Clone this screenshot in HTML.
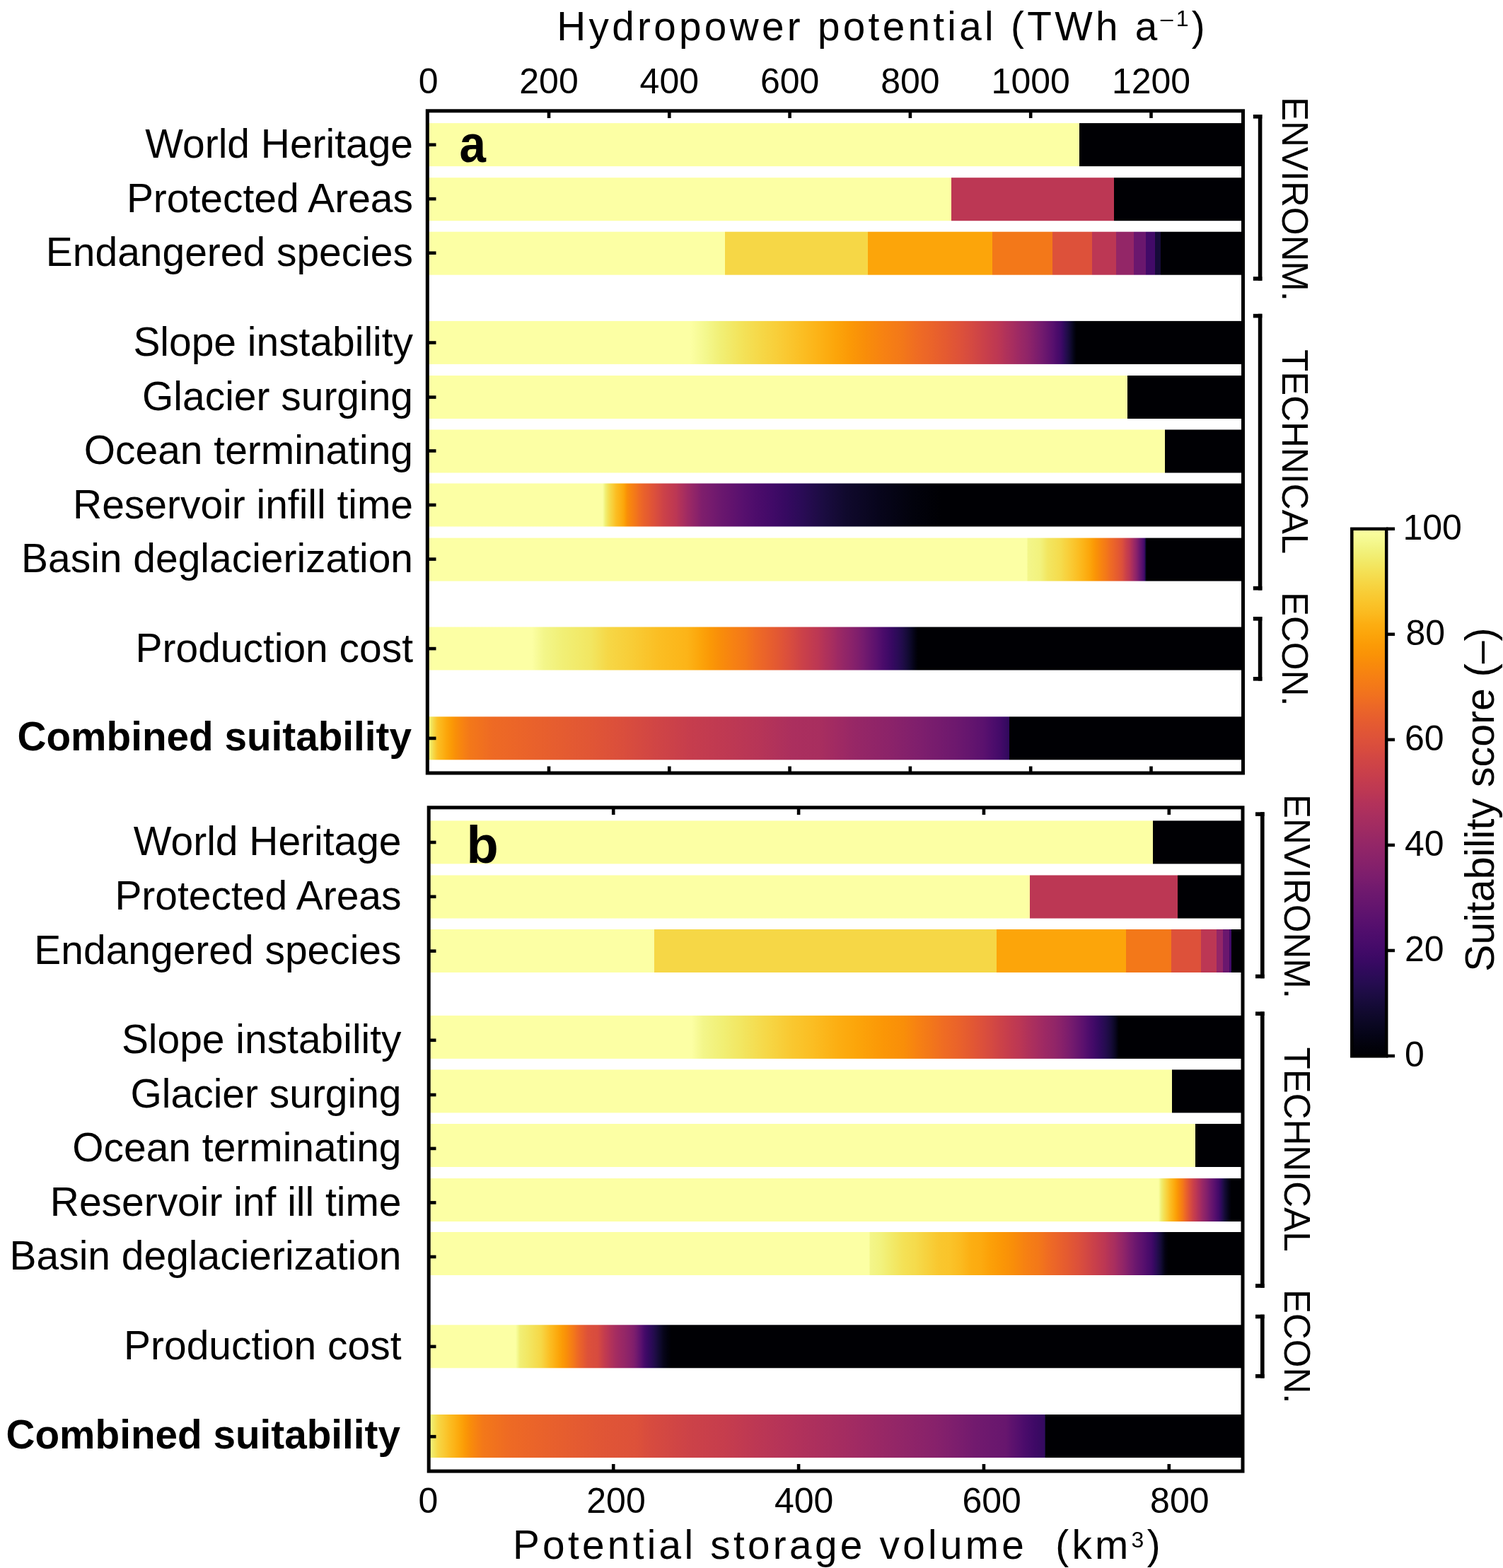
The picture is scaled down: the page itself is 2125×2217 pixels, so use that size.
<!DOCTYPE html>
<html><head><meta charset="utf-8"><title>Suitability figure</title>
<style>
html,body{margin:0;padding:0;background:#fff;}
body{width:2125px;height:2217px;position:relative;overflow:hidden;}
</style></head><body>
<svg width="2125" height="2217" viewBox="0 0 2125 2217" style="position:absolute;left:0;top:0"><defs><linearGradient id="g00" gradientUnits="userSpaceOnUse" x1="600.0" y1="0" x2="1762.0" y2="0"><stop offset="0.00000" stop-color="#fcffa4"/><stop offset="0.79690" stop-color="#fcffa4"/><stop offset="0.79690" stop-color="#000004"/><stop offset="1.00000" stop-color="#000004"/></linearGradient><linearGradient id="g01" gradientUnits="userSpaceOnUse" x1="600.0" y1="0" x2="1762.0" y2="0"><stop offset="0.00000" stop-color="#fcffa4"/><stop offset="0.64088" stop-color="#fcffa4"/><stop offset="0.64088" stop-color="#bc3754"/><stop offset="0.83907" stop-color="#bc3754"/><stop offset="0.83907" stop-color="#000004"/><stop offset="1.00000" stop-color="#000004"/></linearGradient><linearGradient id="g02" gradientUnits="userSpaceOnUse" x1="600.0" y1="0" x2="1762.0" y2="0"><stop offset="0.00000" stop-color="#fcffa4"/><stop offset="0.36532" stop-color="#fcffa4"/><stop offset="0.36532" stop-color="#f6d746"/><stop offset="0.53933" stop-color="#f6d746"/><stop offset="0.53933" stop-color="#fca50a"/><stop offset="0.69105" stop-color="#fca50a"/><stop offset="0.69105" stop-color="#f37819"/><stop offset="0.76420" stop-color="#f37819"/><stop offset="0.76420" stop-color="#dd513a"/><stop offset="0.81213" stop-color="#dd513a"/><stop offset="0.81213" stop-color="#bc3754"/><stop offset="0.84165" stop-color="#bc3754"/><stop offset="0.84165" stop-color="#932667"/><stop offset="0.86274" stop-color="#932667"/><stop offset="0.86274" stop-color="#6a176e"/><stop offset="0.87780" stop-color="#6a176e"/><stop offset="0.87780" stop-color="#420a68"/><stop offset="0.88881" stop-color="#420a68"/><stop offset="0.88881" stop-color="#160b39"/><stop offset="0.89544" stop-color="#160b39"/><stop offset="0.89544" stop-color="#000004"/><stop offset="1.00000" stop-color="#000004"/></linearGradient><linearGradient id="g03" gradientUnits="userSpaceOnUse" x1="600.0" y1="0" x2="1762.0" y2="0"><stop offset="0.00000" stop-color="#fcffa4"/><stop offset="0.32358" stop-color="#fcffa4"/><stop offset="0.34208" stop-color="#f4f88e"/><stop offset="0.36059" stop-color="#f1ef75"/><stop offset="0.38554" stop-color="#f3e35a"/><stop offset="0.41050" stop-color="#f6d746"/><stop offset="0.43503" stop-color="#f9cb35"/><stop offset="0.45955" stop-color="#fbbe23"/><stop offset="0.48021" stop-color="#fcb216"/><stop offset="0.50086" stop-color="#fca50a"/><stop offset="0.51807" stop-color="#fb9906"/><stop offset="0.53528" stop-color="#f98e09"/><stop offset="0.55809" stop-color="#f78212"/><stop offset="0.58090" stop-color="#f37819"/><stop offset="0.59940" stop-color="#ef6c23"/><stop offset="0.61790" stop-color="#ea632a"/><stop offset="0.63511" stop-color="#e45a31"/><stop offset="0.65232" stop-color="#dd513a"/><stop offset="0.66523" stop-color="#d54a41"/><stop offset="0.67814" stop-color="#cc4248"/><stop offset="0.68847" stop-color="#c43c4e"/><stop offset="0.69880" stop-color="#bc3754"/><stop offset="0.70697" stop-color="#b1325a"/><stop offset="0.71515" stop-color="#a82e5f"/><stop offset="0.72332" stop-color="#9d2964"/><stop offset="0.73150" stop-color="#932667"/><stop offset="0.73795" stop-color="#8a226a"/><stop offset="0.74441" stop-color="#7f1e6c"/><stop offset="0.75000" stop-color="#751b6e"/><stop offset="0.75559" stop-color="#6a176e"/><stop offset="0.76033" stop-color="#61136e"/><stop offset="0.76506" stop-color="#57106e"/><stop offset="0.76936" stop-color="#4c0c6b"/><stop offset="0.77367" stop-color="#420a68"/><stop offset="0.77590" stop-color="#390963"/><stop offset="0.77814" stop-color="#2f0a5b"/><stop offset="0.78038" stop-color="#260c51"/><stop offset="0.78262" stop-color="#1e0c45"/><stop offset="0.78485" stop-color="#160b39"/><stop offset="0.78657" stop-color="#10092d"/><stop offset="0.78830" stop-color="#0a0722"/><stop offset="0.79002" stop-color="#050417"/><stop offset="0.79174" stop-color="#02020c"/><stop offset="0.79346" stop-color="#000004"/><stop offset="1.00000" stop-color="#000004"/></linearGradient><linearGradient id="g04" gradientUnits="userSpaceOnUse" x1="600.0" y1="0" x2="1762.0" y2="0"><stop offset="0.00000" stop-color="#fcffa4"/><stop offset="0.85577" stop-color="#fcffa4"/><stop offset="0.85577" stop-color="#000004"/><stop offset="1.00000" stop-color="#000004"/></linearGradient><linearGradient id="g05" gradientUnits="userSpaceOnUse" x1="600.0" y1="0" x2="1762.0" y2="0"><stop offset="0.00000" stop-color="#fcffa4"/><stop offset="0.90077" stop-color="#fcffa4"/><stop offset="0.90077" stop-color="#000004"/><stop offset="1.00000" stop-color="#000004"/></linearGradient><linearGradient id="g06" gradientUnits="userSpaceOnUse" x1="600.0" y1="0" x2="1762.0" y2="0"><stop offset="0.00000" stop-color="#fcffa4"/><stop offset="0.21687" stop-color="#fcffa4"/><stop offset="0.21859" stop-color="#f4f88e"/><stop offset="0.22031" stop-color="#f1ef75"/><stop offset="0.22332" stop-color="#f3e35a"/><stop offset="0.22633" stop-color="#f6d746"/><stop offset="0.22978" stop-color="#f9cb35"/><stop offset="0.23322" stop-color="#fbbe23"/><stop offset="0.23795" stop-color="#fcb216"/><stop offset="0.24269" stop-color="#fca50a"/><stop offset="0.24484" stop-color="#fb9906"/><stop offset="0.24699" stop-color="#f98e09"/><stop offset="0.25172" stop-color="#f78212"/><stop offset="0.25645" stop-color="#f37819"/><stop offset="0.26119" stop-color="#ef6c23"/><stop offset="0.26592" stop-color="#ea632a"/><stop offset="0.27238" stop-color="#e45a31"/><stop offset="0.27883" stop-color="#dd513a"/><stop offset="0.28485" stop-color="#d54a41"/><stop offset="0.29088" stop-color="#cc4248"/><stop offset="0.29862" stop-color="#c43c4e"/><stop offset="0.30637" stop-color="#bc3754"/><stop offset="0.31110" stop-color="#b1325a"/><stop offset="0.31583" stop-color="#a82e5f"/><stop offset="0.32143" stop-color="#9d2964"/><stop offset="0.32702" stop-color="#932667"/><stop offset="0.33219" stop-color="#8a226a"/><stop offset="0.33735" stop-color="#7f1e6c"/><stop offset="0.34940" stop-color="#751b6e"/><stop offset="0.36145" stop-color="#6a176e"/><stop offset="0.37478" stop-color="#61136e"/><stop offset="0.38812" stop-color="#57106e"/><stop offset="0.40491" stop-color="#4c0c6b"/><stop offset="0.42169" stop-color="#420a68"/><stop offset="0.43976" stop-color="#360961"/><stop offset="0.45783" stop-color="#2b0b57"/><stop offset="0.48537" stop-color="#1b0c41"/><stop offset="0.51291" stop-color="#10092d"/><stop offset="0.55422" stop-color="#07051b"/><stop offset="0.59552" stop-color="#02020c"/><stop offset="0.62823" stop-color="#000004"/><stop offset="1.00000" stop-color="#000004"/></linearGradient><linearGradient id="g07" gradientUnits="userSpaceOnUse" x1="600.0" y1="0" x2="1762.0" y2="0"><stop offset="0.00000" stop-color="#fcffa4"/><stop offset="0.73322" stop-color="#fcffa4"/><stop offset="0.73408" stop-color="#f3f68a"/><stop offset="0.74957" stop-color="#f2f27d"/><stop offset="0.75818" stop-color="#f2e661"/><stop offset="0.77453" stop-color="#f5db4c"/><stop offset="0.77711" stop-color="#f6d746"/><stop offset="0.78614" stop-color="#f9cb35"/><stop offset="0.79518" stop-color="#fbbe23"/><stop offset="0.80250" stop-color="#fcb216"/><stop offset="0.80981" stop-color="#fca50a"/><stop offset="0.81454" stop-color="#fb9906"/><stop offset="0.81928" stop-color="#f98e09"/><stop offset="0.82444" stop-color="#f78212"/><stop offset="0.82960" stop-color="#f37819"/><stop offset="0.83434" stop-color="#ef6c23"/><stop offset="0.83907" stop-color="#ea632a"/><stop offset="0.84380" stop-color="#e45a31"/><stop offset="0.84854" stop-color="#dd513a"/><stop offset="0.85090" stop-color="#d54a41"/><stop offset="0.85327" stop-color="#cc4248"/><stop offset="0.85564" stop-color="#c43c4e"/><stop offset="0.85800" stop-color="#bc3754"/><stop offset="0.85972" stop-color="#b1325a"/><stop offset="0.86145" stop-color="#a82e5f"/><stop offset="0.86317" stop-color="#9d2964"/><stop offset="0.86489" stop-color="#932667"/><stop offset="0.86602" stop-color="#8c2369"/><stop offset="0.86716" stop-color="#84206b"/><stop offset="0.86830" stop-color="#7c1d6d"/><stop offset="0.86943" stop-color="#721a6e"/><stop offset="0.87057" stop-color="#6a176e"/><stop offset="0.87194" stop-color="#61136e"/><stop offset="0.87332" stop-color="#57106e"/><stop offset="0.87470" stop-color="#4c0c6b"/><stop offset="0.87608" stop-color="#420a68"/><stop offset="0.87633" stop-color="#390963"/><stop offset="0.87659" stop-color="#2f0a5b"/><stop offset="0.87685" stop-color="#260c51"/><stop offset="0.87711" stop-color="#1e0c45"/><stop offset="0.87737" stop-color="#160b39"/><stop offset="0.87762" stop-color="#10092d"/><stop offset="0.87788" stop-color="#0a0722"/><stop offset="0.87814" stop-color="#050417"/><stop offset="0.87840" stop-color="#02020c"/><stop offset="0.87866" stop-color="#000004"/><stop offset="1.00000" stop-color="#000004"/></linearGradient><linearGradient id="g08" gradientUnits="userSpaceOnUse" x1="600.0" y1="0" x2="1762.0" y2="0"><stop offset="0.00000" stop-color="#fcffa4"/><stop offset="0.13081" stop-color="#fcffa4"/><stop offset="0.14544" stop-color="#f3f68a"/><stop offset="0.16867" stop-color="#f1ef75"/><stop offset="0.20310" stop-color="#f2e661"/><stop offset="0.22375" stop-color="#f6d746"/><stop offset="0.25129" stop-color="#f8cd37"/><stop offset="0.28485" stop-color="#fbbe23"/><stop offset="0.31928" stop-color="#fcb418"/><stop offset="0.33563" stop-color="#fca50a"/><stop offset="0.34725" stop-color="#fb9906"/><stop offset="0.35886" stop-color="#f98e09"/><stop offset="0.37478" stop-color="#f78212"/><stop offset="0.39071" stop-color="#f37819"/><stop offset="0.40275" stop-color="#ef6c23"/><stop offset="0.41480" stop-color="#ea632a"/><stop offset="0.42685" stop-color="#e45a31"/><stop offset="0.43890" stop-color="#dd513a"/><stop offset="0.44880" stop-color="#d54a41"/><stop offset="0.45869" stop-color="#cc4248"/><stop offset="0.46902" stop-color="#c43c4e"/><stop offset="0.47935" stop-color="#bc3754"/><stop offset="0.48752" stop-color="#b1325a"/><stop offset="0.49570" stop-color="#a82e5f"/><stop offset="0.50344" stop-color="#9d2964"/><stop offset="0.51119" stop-color="#932667"/><stop offset="0.51936" stop-color="#8a226a"/><stop offset="0.52754" stop-color="#7f1e6c"/><stop offset="0.53399" stop-color="#751b6e"/><stop offset="0.54045" stop-color="#6a176e"/><stop offset="0.54604" stop-color="#61136e"/><stop offset="0.55164" stop-color="#57106e"/><stop offset="0.55723" stop-color="#4c0c6b"/><stop offset="0.56282" stop-color="#420a68"/><stop offset="0.56928" stop-color="#360961"/><stop offset="0.57573" stop-color="#2b0b57"/><stop offset="0.58133" stop-color="#210c4a"/><stop offset="0.58692" stop-color="#160b39"/><stop offset="0.59079" stop-color="#0e092b"/><stop offset="0.59466" stop-color="#07051b"/><stop offset="0.59768" stop-color="#02020e"/><stop offset="0.60069" stop-color="#000004"/><stop offset="1.00000" stop-color="#000004"/></linearGradient><linearGradient id="g09" gradientUnits="userSpaceOnUse" x1="600.0" y1="0" x2="1762.0" y2="0"><stop offset="0.00000" stop-color="#f1ef75"/><stop offset="0.00516" stop-color="#f1ef75"/><stop offset="0.00861" stop-color="#f2e661"/><stop offset="0.01054" stop-color="#f5db4c"/><stop offset="0.01248" stop-color="#f7d13d"/><stop offset="0.01441" stop-color="#f9c72f"/><stop offset="0.01635" stop-color="#fbbe23"/><stop offset="0.02194" stop-color="#fcb216"/><stop offset="0.02754" stop-color="#fca50a"/><stop offset="0.03313" stop-color="#fb9906"/><stop offset="0.03873" stop-color="#f98e09"/><stop offset="0.04690" stop-color="#f78212"/><stop offset="0.05508" stop-color="#f37819"/><stop offset="0.08262" stop-color="#ee6a24"/><stop offset="0.12392" stop-color="#ea632a"/><stop offset="0.16523" stop-color="#e55c30"/><stop offset="0.20654" stop-color="#e05536"/><stop offset="0.24096" stop-color="#da4e3c"/><stop offset="0.28227" stop-color="#d04545"/><stop offset="0.32358" stop-color="#c63d4d"/><stop offset="0.36489" stop-color="#bf3952"/><stop offset="0.40620" stop-color="#b73557"/><stop offset="0.44750" stop-color="#ab2f5e"/><stop offset="0.48193" stop-color="#a82e5f"/><stop offset="0.50258" stop-color="#a02a63"/><stop offset="0.52324" stop-color="#972766"/><stop offset="0.56454" stop-color="#8c2369"/><stop offset="0.60585" stop-color="#7d1e6d"/><stop offset="0.64716" stop-color="#6d186e"/><stop offset="0.66394" stop-color="#64156e"/><stop offset="0.68072" stop-color="#5a116e"/><stop offset="0.68761" stop-color="#520e6d"/><stop offset="0.69449" stop-color="#4a0c6b"/><stop offset="0.70138" stop-color="#420a68"/><stop offset="0.70654" stop-color="#390963"/><stop offset="0.71170" stop-color="#2f0a5b"/><stop offset="0.71176" stop-color="#260c51"/><stop offset="0.71181" stop-color="#1e0c45"/><stop offset="0.71187" stop-color="#160b39"/><stop offset="0.71192" stop-color="#10092d"/><stop offset="0.71197" stop-color="#0a0722"/><stop offset="0.71203" stop-color="#050417"/><stop offset="0.71208" stop-color="#02020c"/><stop offset="0.71213" stop-color="#000004"/><stop offset="1.00000" stop-color="#000004"/></linearGradient><linearGradient id="g10" gradientUnits="userSpaceOnUse" x1="600.0" y1="0" x2="1762.0" y2="0"><stop offset="0.00000" stop-color="#fcffa4"/><stop offset="0.88683" stop-color="#fcffa4"/><stop offset="0.88683" stop-color="#000004"/><stop offset="1.00000" stop-color="#000004"/></linearGradient><linearGradient id="g11" gradientUnits="userSpaceOnUse" x1="600.0" y1="0" x2="1762.0" y2="0"><stop offset="0.00000" stop-color="#fcffa4"/><stop offset="0.73666" stop-color="#fcffa4"/><stop offset="0.73666" stop-color="#bc3754"/><stop offset="0.91635" stop-color="#bc3754"/><stop offset="0.91635" stop-color="#000004"/><stop offset="1.00000" stop-color="#000004"/></linearGradient><linearGradient id="g12" gradientUnits="userSpaceOnUse" x1="600.0" y1="0" x2="1762.0" y2="0"><stop offset="0.00000" stop-color="#fcffa4"/><stop offset="0.27969" stop-color="#fcffa4"/><stop offset="0.27969" stop-color="#f6d746"/><stop offset="0.69664" stop-color="#f6d746"/><stop offset="0.69664" stop-color="#fca50a"/><stop offset="0.85404" stop-color="#fca50a"/><stop offset="0.85404" stop-color="#f37819"/><stop offset="0.90869" stop-color="#f37819"/><stop offset="0.90869" stop-color="#dd513a"/><stop offset="0.94492" stop-color="#dd513a"/><stop offset="0.94492" stop-color="#bc3754"/><stop offset="0.96420" stop-color="#bc3754"/><stop offset="0.96420" stop-color="#932667"/><stop offset="0.97186" stop-color="#932667"/><stop offset="0.97186" stop-color="#6a176e"/><stop offset="0.97909" stop-color="#6a176e"/><stop offset="0.97909" stop-color="#420a68"/><stop offset="0.98150" stop-color="#420a68"/><stop offset="0.98150" stop-color="#000004"/><stop offset="1.00000" stop-color="#000004"/></linearGradient><linearGradient id="g13" gradientUnits="userSpaceOnUse" x1="600.0" y1="0" x2="1762.0" y2="0"><stop offset="0.00000" stop-color="#fcffa4"/><stop offset="0.32530" stop-color="#fcffa4"/><stop offset="0.33907" stop-color="#f3f68a"/><stop offset="0.36231" stop-color="#f1ef75"/><stop offset="0.38554" stop-color="#f2e661"/><stop offset="0.41738" stop-color="#f6d746"/><stop offset="0.44836" stop-color="#f9c72f"/><stop offset="0.47160" stop-color="#fbbe23"/><stop offset="0.50258" stop-color="#fcae12"/><stop offset="0.52582" stop-color="#fca50a"/><stop offset="0.55766" stop-color="#fb9706"/><stop offset="0.58348" stop-color="#f98e09"/><stop offset="0.59897" stop-color="#f78212"/><stop offset="0.61446" stop-color="#f37819"/><stop offset="0.63167" stop-color="#ef6c23"/><stop offset="0.64888" stop-color="#ea632a"/><stop offset="0.66308" stop-color="#e45a31"/><stop offset="0.67728" stop-color="#dd513a"/><stop offset="0.68933" stop-color="#d54a41"/><stop offset="0.70138" stop-color="#cc4248"/><stop offset="0.71256" stop-color="#c43c4e"/><stop offset="0.72375" stop-color="#bc3754"/><stop offset="0.73365" stop-color="#b1325a"/><stop offset="0.74355" stop-color="#a82e5f"/><stop offset="0.75473" stop-color="#9d2964"/><stop offset="0.76592" stop-color="#932667"/><stop offset="0.77367" stop-color="#8a226a"/><stop offset="0.78141" stop-color="#7f1e6c"/><stop offset="0.78744" stop-color="#751b6e"/><stop offset="0.79346" stop-color="#6a176e"/><stop offset="0.79862" stop-color="#61136e"/><stop offset="0.80379" stop-color="#57106e"/><stop offset="0.80895" stop-color="#4c0c6b"/><stop offset="0.81411" stop-color="#420a68"/><stop offset="0.81971" stop-color="#360961"/><stop offset="0.82530" stop-color="#2b0b57"/><stop offset="0.83046" stop-color="#210c4a"/><stop offset="0.83563" stop-color="#160b39"/><stop offset="0.83864" stop-color="#0e092b"/><stop offset="0.84165" stop-color="#07051b"/><stop offset="0.84337" stop-color="#02020e"/><stop offset="0.84509" stop-color="#000004"/><stop offset="1.00000" stop-color="#000004"/></linearGradient><linearGradient id="g14" gradientUnits="userSpaceOnUse" x1="600.0" y1="0" x2="1762.0" y2="0"><stop offset="0.00000" stop-color="#fcffa4"/><stop offset="0.90990" stop-color="#fcffa4"/><stop offset="0.90990" stop-color="#000004"/><stop offset="1.00000" stop-color="#000004"/></linearGradient><linearGradient id="g15" gradientUnits="userSpaceOnUse" x1="600.0" y1="0" x2="1762.0" y2="0"><stop offset="0.00000" stop-color="#fcffa4"/><stop offset="0.93778" stop-color="#fcffa4"/><stop offset="0.93778" stop-color="#000004"/><stop offset="1.00000" stop-color="#000004"/></linearGradient><linearGradient id="g16" gradientUnits="userSpaceOnUse" x1="600.0" y1="0" x2="1762.0" y2="0"><stop offset="0.00000" stop-color="#fcffa4"/><stop offset="0.89329" stop-color="#fcffa4"/><stop offset="0.89484" stop-color="#f4f88e"/><stop offset="0.89639" stop-color="#f1ef75"/><stop offset="0.89914" stop-color="#f3e35a"/><stop offset="0.90189" stop-color="#f6d746"/><stop offset="0.90460" stop-color="#f9cb35"/><stop offset="0.90731" stop-color="#fbbe23"/><stop offset="0.91041" stop-color="#fcb216"/><stop offset="0.91351" stop-color="#fca50a"/><stop offset="0.91588" stop-color="#fb9906"/><stop offset="0.91824" stop-color="#f98e09"/><stop offset="0.92057" stop-color="#f78212"/><stop offset="0.92289" stop-color="#f37819"/><stop offset="0.92483" stop-color="#ef6c23"/><stop offset="0.92676" stop-color="#ea632a"/><stop offset="0.92870" stop-color="#e45a31"/><stop offset="0.93064" stop-color="#dd513a"/><stop offset="0.93279" stop-color="#d54a41"/><stop offset="0.93494" stop-color="#cc4248"/><stop offset="0.93709" stop-color="#c43c4e"/><stop offset="0.93924" stop-color="#bc3754"/><stop offset="0.94139" stop-color="#b1325a"/><stop offset="0.94355" stop-color="#a82e5f"/><stop offset="0.94570" stop-color="#9d2964"/><stop offset="0.94785" stop-color="#932667"/><stop offset="0.94971" stop-color="#8c2369"/><stop offset="0.95157" stop-color="#84206b"/><stop offset="0.95343" stop-color="#7c1d6d"/><stop offset="0.95528" stop-color="#721a6e"/><stop offset="0.95714" stop-color="#6a176e"/><stop offset="0.95947" stop-color="#61136e"/><stop offset="0.96179" stop-color="#57106e"/><stop offset="0.96411" stop-color="#4c0c6b"/><stop offset="0.96644" stop-color="#420a68"/><stop offset="0.96785" stop-color="#390963"/><stop offset="0.96926" stop-color="#2f0a5b"/><stop offset="0.97067" stop-color="#260c51"/><stop offset="0.97208" stop-color="#1e0c45"/><stop offset="0.97349" stop-color="#160b39"/><stop offset="0.97559" stop-color="#0e092b"/><stop offset="0.97768" stop-color="#08051d"/><stop offset="0.97978" stop-color="#030210"/><stop offset="0.98193" stop-color="#000004"/><stop offset="1.00000" stop-color="#000004"/></linearGradient><linearGradient id="g17" gradientUnits="userSpaceOnUse" x1="600.0" y1="0" x2="1762.0" y2="0"><stop offset="0.00000" stop-color="#fcffa4"/><stop offset="0.54131" stop-color="#fcffa4"/><stop offset="0.54217" stop-color="#f3f68a"/><stop offset="0.55594" stop-color="#f2f27d"/><stop offset="0.56885" stop-color="#f2ea69"/><stop offset="0.58262" stop-color="#f4e156"/><stop offset="0.59725" stop-color="#f5db4c"/><stop offset="0.61188" stop-color="#f7d13d"/><stop offset="0.62565" stop-color="#f9c72f"/><stop offset="0.63855" stop-color="#fac42a"/><stop offset="0.65318" stop-color="#fbba1f"/><stop offset="0.66523" stop-color="#fcae12"/><stop offset="0.67728" stop-color="#fcaa0f"/><stop offset="0.68761" stop-color="#fca108"/><stop offset="0.70224" stop-color="#fb9706"/><stop offset="0.71601" stop-color="#f98e09"/><stop offset="0.73236" stop-color="#f68013"/><stop offset="0.74699" stop-color="#f37819"/><stop offset="0.75861" stop-color="#ef6c23"/><stop offset="0.77022" stop-color="#ea632a"/><stop offset="0.78227" stop-color="#e45a31"/><stop offset="0.79432" stop-color="#dd513a"/><stop offset="0.80336" stop-color="#d54a41"/><stop offset="0.81239" stop-color="#cc4248"/><stop offset="0.82014" stop-color="#c43c4e"/><stop offset="0.82788" stop-color="#bc3754"/><stop offset="0.83391" stop-color="#b1325a"/><stop offset="0.83993" stop-color="#a82e5f"/><stop offset="0.84466" stop-color="#9d2964"/><stop offset="0.84940" stop-color="#932667"/><stop offset="0.85327" stop-color="#8a226a"/><stop offset="0.85714" stop-color="#7f1e6c"/><stop offset="0.86145" stop-color="#751b6e"/><stop offset="0.86575" stop-color="#6a176e"/><stop offset="0.87048" stop-color="#61136e"/><stop offset="0.87522" stop-color="#57106e"/><stop offset="0.87995" stop-color="#4c0c6b"/><stop offset="0.88468" stop-color="#420a68"/><stop offset="0.88692" stop-color="#390963"/><stop offset="0.88916" stop-color="#2f0a5b"/><stop offset="0.89139" stop-color="#260c51"/><stop offset="0.89363" stop-color="#1e0c45"/><stop offset="0.89587" stop-color="#160b39"/><stop offset="0.89773" stop-color="#0e092b"/><stop offset="0.89960" stop-color="#08051d"/><stop offset="0.90146" stop-color="#030210"/><stop offset="0.90534" stop-color="#000004"/><stop offset="1.00000" stop-color="#000004"/></linearGradient><linearGradient id="g18" gradientUnits="userSpaceOnUse" x1="600.0" y1="0" x2="1762.0" y2="0"><stop offset="0.00000" stop-color="#fcffa4"/><stop offset="0.11102" stop-color="#fcffa4"/><stop offset="0.11360" stop-color="#f4f88e"/><stop offset="0.11618" stop-color="#f1ef75"/><stop offset="0.12737" stop-color="#f2e661"/><stop offset="0.14200" stop-color="#f6d746"/><stop offset="0.14716" stop-color="#f9cb35"/><stop offset="0.15232" stop-color="#fbbe23"/><stop offset="0.15792" stop-color="#fcb216"/><stop offset="0.16351" stop-color="#fca50a"/><stop offset="0.16824" stop-color="#fb9906"/><stop offset="0.17298" stop-color="#f98e09"/><stop offset="0.17728" stop-color="#f78212"/><stop offset="0.18158" stop-color="#f37819"/><stop offset="0.18546" stop-color="#ef6c23"/><stop offset="0.18933" stop-color="#ea632a"/><stop offset="0.19406" stop-color="#e45a31"/><stop offset="0.19880" stop-color="#dd513a"/><stop offset="0.21084" stop-color="#d74b3f"/><stop offset="0.21486" stop-color="#ce4347"/><stop offset="0.21888" stop-color="#c43c4e"/><stop offset="0.22289" stop-color="#bc3754"/><stop offset="0.22719" stop-color="#b1325a"/><stop offset="0.23150" stop-color="#a82e5f"/><stop offset="0.23795" stop-color="#9d2964"/><stop offset="0.24441" stop-color="#932667"/><stop offset="0.24957" stop-color="#8a226a"/><stop offset="0.25473" stop-color="#7f1e6c"/><stop offset="0.25731" stop-color="#751b6e"/><stop offset="0.25990" stop-color="#6a176e"/><stop offset="0.26205" stop-color="#61136e"/><stop offset="0.26420" stop-color="#57106e"/><stop offset="0.26635" stop-color="#4c0c6b"/><stop offset="0.26850" stop-color="#420a68"/><stop offset="0.27238" stop-color="#360961"/><stop offset="0.27625" stop-color="#2b0b57"/><stop offset="0.28012" stop-color="#210c4a"/><stop offset="0.28399" stop-color="#160b39"/><stop offset="0.28744" stop-color="#0e092b"/><stop offset="0.29088" stop-color="#07051b"/><stop offset="0.29561" stop-color="#02020e"/><stop offset="0.30034" stop-color="#000004"/><stop offset="1.00000" stop-color="#000004"/></linearGradient><linearGradient id="g19" gradientUnits="userSpaceOnUse" x1="600.0" y1="0" x2="1762.0" y2="0"><stop offset="0.00000" stop-color="#f3f68a"/><stop offset="0.00516" stop-color="#f3f68a"/><stop offset="0.00861" stop-color="#f1ef75"/><stop offset="0.01248" stop-color="#f3e35a"/><stop offset="0.01635" stop-color="#f6d746"/><stop offset="0.02324" stop-color="#f9cb35"/><stop offset="0.03012" stop-color="#fbbe23"/><stop offset="0.03701" stop-color="#fcb216"/><stop offset="0.04389" stop-color="#fca50a"/><stop offset="0.04948" stop-color="#fb9906"/><stop offset="0.05508" stop-color="#f98e09"/><stop offset="0.06325" stop-color="#f78212"/><stop offset="0.07143" stop-color="#f37819"/><stop offset="0.10327" stop-color="#ee6a24"/><stop offset="0.13769" stop-color="#ea632a"/><stop offset="0.17900" stop-color="#e55c30"/><stop offset="0.21945" stop-color="#e05536"/><stop offset="0.25818" stop-color="#dd513a"/><stop offset="0.27539" stop-color="#d74b3f"/><stop offset="0.32358" stop-color="#cc4248"/><stop offset="0.36489" stop-color="#c63d4d"/><stop offset="0.40620" stop-color="#bc3754"/><stop offset="0.44750" stop-color="#b3325a"/><stop offset="0.49484" stop-color="#a82e5f"/><stop offset="0.52840" stop-color="#a02a63"/><stop offset="0.57487" stop-color="#932667"/><stop offset="0.62220" stop-color="#87216b"/><stop offset="0.64544" stop-color="#7d1e6d"/><stop offset="0.66867" stop-color="#721a6e"/><stop offset="0.70740" stop-color="#67166e"/><stop offset="0.71515" stop-color="#5d126e"/><stop offset="0.72289" stop-color="#540f6d"/><stop offset="0.73064" stop-color="#4a0c6b"/><stop offset="0.74269" stop-color="#3e0966"/><stop offset="0.75473" stop-color="#340a5f"/><stop offset="0.75489" stop-color="#2b0b57"/><stop offset="0.75506" stop-color="#210c4a"/><stop offset="0.75522" stop-color="#190c3e"/><stop offset="0.75538" stop-color="#110a30"/><stop offset="0.75554" stop-color="#0b0724"/><stop offset="0.75570" stop-color="#050417"/><stop offset="0.75586" stop-color="#02020c"/><stop offset="0.75602" stop-color="#000004"/><stop offset="1.00000" stop-color="#000004"/></linearGradient><linearGradient id="cbg" x1="0" y1="0" x2="0" y2="1"><stop offset="0.00" stop-color="#fcffa4"/><stop offset="0.02" stop-color="#f5f992"/><stop offset="0.04" stop-color="#f2f27d"/><stop offset="0.06" stop-color="#f2ea69"/><stop offset="0.08" stop-color="#f4e156"/><stop offset="0.10" stop-color="#f6d746"/><stop offset="0.12" stop-color="#f8cd37"/><stop offset="0.14" stop-color="#fac42a"/><stop offset="0.16" stop-color="#fbba1f"/><stop offset="0.18" stop-color="#fcae12"/><stop offset="0.20" stop-color="#fca50a"/><stop offset="0.22" stop-color="#fb9b06"/><stop offset="0.24" stop-color="#fa9207"/><stop offset="0.26" stop-color="#f8890c"/><stop offset="0.28" stop-color="#f68013"/><stop offset="0.30" stop-color="#f37819"/><stop offset="0.32" stop-color="#f06f20"/><stop offset="0.34" stop-color="#eb6628"/><stop offset="0.36" stop-color="#e75e2e"/><stop offset="0.38" stop-color="#e25734"/><stop offset="0.40" stop-color="#dd513a"/><stop offset="0.42" stop-color="#d74b3f"/><stop offset="0.44" stop-color="#d04545"/><stop offset="0.46" stop-color="#ca404a"/><stop offset="0.48" stop-color="#c33b4f"/><stop offset="0.50" stop-color="#bc3754"/><stop offset="0.52" stop-color="#b3325a"/><stop offset="0.54" stop-color="#ab2f5e"/><stop offset="0.56" stop-color="#a32c61"/><stop offset="0.58" stop-color="#9b2964"/><stop offset="0.60" stop-color="#932667"/><stop offset="0.62" stop-color="#8c2369"/><stop offset="0.64" stop-color="#84206b"/><stop offset="0.66" stop-color="#7c1d6d"/><stop offset="0.68" stop-color="#721a6e"/><stop offset="0.70" stop-color="#6a176e"/><stop offset="0.72" stop-color="#62146e"/><stop offset="0.74" stop-color="#5a116e"/><stop offset="0.76" stop-color="#520e6d"/><stop offset="0.78" stop-color="#4a0c6b"/><stop offset="0.80" stop-color="#420a68"/><stop offset="0.82" stop-color="#390963"/><stop offset="0.84" stop-color="#2f0a5b"/><stop offset="0.86" stop-color="#260c51"/><stop offset="0.88" stop-color="#1e0c45"/><stop offset="0.90" stop-color="#160b39"/><stop offset="0.92" stop-color="#10092d"/><stop offset="0.94" stop-color="#0a0722"/><stop offset="0.96" stop-color="#050417"/><stop offset="0.98" stop-color="#02020c"/><stop offset="1.00" stop-color="#000004"/></linearGradient></defs><rect x="0" y="0" width="2125" height="2217" fill="#fff"/><rect x="604.0" y="174.1" width="1153.5" height="61.0" fill="url(#g00)"/><rect x="604.0" y="251.2" width="1153.5" height="61.0" fill="url(#g01)"/><rect x="604.0" y="327.7" width="1153.5" height="61.0" fill="url(#g02)"/><rect x="604.0" y="453.9" width="1153.5" height="61.0" fill="url(#g03)"/><rect x="604.0" y="531.0" width="1153.5" height="61.0" fill="url(#g04)"/><rect x="604.0" y="607.5" width="1153.5" height="61.0" fill="url(#g05)"/><rect x="604.0" y="683.5" width="1153.5" height="61.0" fill="url(#g06)"/><rect x="604.0" y="760.6" width="1153.5" height="61.0" fill="url(#g07)"/><rect x="604.0" y="886.5" width="1153.5" height="61.0" fill="url(#g08)"/><rect x="604.0" y="1013.3" width="1153.5" height="61.0" fill="url(#g09)"/><rect x="606.0" y="1160.4" width="1151.5" height="61.0" fill="url(#g10)"/><rect x="606.0" y="1237.5" width="1151.5" height="61.0" fill="url(#g11)"/><rect x="606.0" y="1314.0" width="1151.5" height="61.0" fill="url(#g12)"/><rect x="606.0" y="1435.9" width="1151.5" height="61.0" fill="url(#g13)"/><rect x="606.0" y="1512.4" width="1151.5" height="61.0" fill="url(#g14)"/><rect x="606.0" y="1589.0" width="1151.5" height="61.0" fill="url(#g15)"/><rect x="606.0" y="1666.1" width="1151.5" height="61.0" fill="url(#g16)"/><rect x="606.0" y="1742.0" width="1151.5" height="61.0" fill="url(#g17)"/><rect x="606.0" y="1873.3" width="1151.5" height="61.0" fill="url(#g18)"/><rect x="606.0" y="2000.0" width="1151.5" height="61.0" fill="url(#g19)"/><rect x="604.30" y="156.80" width="1153.20" height="936.20" fill="none" stroke="#000" stroke-width="5"/><rect x="606.20" y="1141.80" width="1150.80" height="938.30" fill="none" stroke="#000" stroke-width="5"/><line x1="604" y1="204.7" x2="616.5" y2="204.7" stroke="#000" stroke-width="4.6"/><line x1="604" y1="281.2" x2="616.5" y2="281.2" stroke="#000" stroke-width="4.6"/><line x1="604" y1="357.7" x2="616.5" y2="357.7" stroke="#000" stroke-width="4.6"/><line x1="604" y1="484.5" x2="616.5" y2="484.5" stroke="#000" stroke-width="4.6"/><line x1="604" y1="561.6" x2="616.5" y2="561.6" stroke="#000" stroke-width="4.6"/><line x1="604" y1="637.5" x2="616.5" y2="637.5" stroke="#000" stroke-width="4.6"/><line x1="604" y1="714.0" x2="616.5" y2="714.0" stroke="#000" stroke-width="4.6"/><line x1="604" y1="790.6" x2="616.5" y2="790.6" stroke="#000" stroke-width="4.6"/><line x1="604" y1="917.1" x2="616.5" y2="917.1" stroke="#000" stroke-width="4.6"/><line x1="604" y1="1043.9" x2="616.5" y2="1043.9" stroke="#000" stroke-width="4.6"/><line x1="606" y1="1191.0" x2="616.5" y2="1191.0" stroke="#000" stroke-width="4.6"/><line x1="606" y1="1267.8" x2="616.5" y2="1267.8" stroke="#000" stroke-width="4.6"/><line x1="606" y1="1344.7" x2="616.5" y2="1344.7" stroke="#000" stroke-width="4.6"/><line x1="606" y1="1470.8" x2="616.5" y2="1470.8" stroke="#000" stroke-width="4.6"/><line x1="606" y1="1548.0" x2="616.5" y2="1548.0" stroke="#000" stroke-width="4.6"/><line x1="606" y1="1623.9" x2="616.5" y2="1623.9" stroke="#000" stroke-width="4.6"/><line x1="606" y1="1700.4" x2="616.5" y2="1700.4" stroke="#000" stroke-width="4.6"/><line x1="606" y1="1777.0" x2="616.5" y2="1777.0" stroke="#000" stroke-width="4.6"/><line x1="606" y1="1903.9" x2="616.5" y2="1903.9" stroke="#000" stroke-width="4.6"/><line x1="606" y1="2031.2" x2="616.5" y2="2031.2" stroke="#000" stroke-width="4.6"/><line x1="776.0" y1="156" x2="776.0" y2="167" stroke="#000" stroke-width="4.6"/><line x1="776.0" y1="1083.5" x2="776.0" y2="1093" stroke="#000" stroke-width="4.6"/><line x1="946.3000000000001" y1="156" x2="946.3000000000001" y2="167" stroke="#000" stroke-width="4.6"/><line x1="946.3000000000001" y1="1083.5" x2="946.3000000000001" y2="1093" stroke="#000" stroke-width="4.6"/><line x1="1116.6000000000001" y1="156" x2="1116.6000000000001" y2="167" stroke="#000" stroke-width="4.6"/><line x1="1116.6000000000001" y1="1083.5" x2="1116.6000000000001" y2="1093" stroke="#000" stroke-width="4.6"/><line x1="1286.9" y1="156" x2="1286.9" y2="167" stroke="#000" stroke-width="4.6"/><line x1="1286.9" y1="1083.5" x2="1286.9" y2="1093" stroke="#000" stroke-width="4.6"/><line x1="1457.2" y1="156" x2="1457.2" y2="167" stroke="#000" stroke-width="4.6"/><line x1="1457.2" y1="1083.5" x2="1457.2" y2="1093" stroke="#000" stroke-width="4.6"/><line x1="1627.5" y1="156" x2="1627.5" y2="167" stroke="#000" stroke-width="4.6"/><line x1="1627.5" y1="1083.5" x2="1627.5" y2="1093" stroke="#000" stroke-width="4.6"/><line x1="867.25" y1="1141" x2="867.25" y2="1152" stroke="#000" stroke-width="4.6"/><line x1="867.25" y1="2070" x2="867.25" y2="2080" stroke="#000" stroke-width="4.6"/><line x1="1129.1" y1="1141" x2="1129.1" y2="1152" stroke="#000" stroke-width="4.6"/><line x1="1129.1" y1="2070" x2="1129.1" y2="2080" stroke="#000" stroke-width="4.6"/><line x1="1390.95" y1="1141" x2="1390.95" y2="1152" stroke="#000" stroke-width="4.6"/><line x1="1390.95" y1="2070" x2="1390.95" y2="2080" stroke="#000" stroke-width="4.6"/><line x1="1652.8000000000002" y1="1141" x2="1652.8000000000002" y2="1152" stroke="#000" stroke-width="4.6"/><line x1="1652.8000000000002" y1="2070" x2="1652.8000000000002" y2="2080" stroke="#000" stroke-width="4.6"/><text x="584.0" y="223.29999999999998" font-family="'Liberation Sans', Arial, sans-serif" font-size="56.95" text-anchor="end" font-weight="normal" >World Heritage</text><text x="584.0" y="299.8" font-family="'Liberation Sans', Arial, sans-serif" font-size="56.95" text-anchor="end" font-weight="normal" >Protected Areas</text><text x="584.0" y="376.3" font-family="'Liberation Sans', Arial, sans-serif" font-size="56.95" text-anchor="end" font-weight="normal" >Endangered species</text><text x="584.0" y="503.1" font-family="'Liberation Sans', Arial, sans-serif" font-size="56.95" text-anchor="end" font-weight="normal" >Slope instability</text><text x="584.0" y="580.2" font-family="'Liberation Sans', Arial, sans-serif" font-size="56.95" text-anchor="end" font-weight="normal" >Glacier surging</text><text x="584.0" y="656.1" font-family="'Liberation Sans', Arial, sans-serif" font-size="56.95" text-anchor="end" font-weight="normal" >Ocean terminating</text><text x="584.0" y="732.6" font-family="'Liberation Sans', Arial, sans-serif" font-size="56.95" text-anchor="end" font-weight="normal" >Reservoir infill time</text><text x="584.0" y="809.2" font-family="'Liberation Sans', Arial, sans-serif" font-size="56.95" text-anchor="end" font-weight="normal" >Basin deglacierization</text><text x="584.0" y="935.7" font-family="'Liberation Sans', Arial, sans-serif" font-size="56.95" text-anchor="end" font-weight="normal" >Production cost</text><text x="582.0" y="1061.1000000000001" font-family="'Liberation Sans', Arial, sans-serif" font-size="56.7" text-anchor="end" font-weight="bold" >Combined suitability</text><text x="567.5" y="1209.4" font-family="'Liberation Sans', Arial, sans-serif" font-size="56.95" text-anchor="end" font-weight="normal" >World Heritage</text><text x="567.5" y="1286.2" font-family="'Liberation Sans', Arial, sans-serif" font-size="56.95" text-anchor="end" font-weight="normal" >Protected Areas</text><text x="567.5" y="1363.1000000000001" font-family="'Liberation Sans', Arial, sans-serif" font-size="56.95" text-anchor="end" font-weight="normal" >Endangered species</text><text x="567.5" y="1489.2" font-family="'Liberation Sans', Arial, sans-serif" font-size="56.95" text-anchor="end" font-weight="normal" >Slope instability</text><text x="567.5" y="1566.4" font-family="'Liberation Sans', Arial, sans-serif" font-size="56.95" text-anchor="end" font-weight="normal" >Glacier surging</text><text x="567.5" y="1642.3000000000002" font-family="'Liberation Sans', Arial, sans-serif" font-size="56.95" text-anchor="end" font-weight="normal" >Ocean terminating</text><text x="567.5" y="1718.8000000000002" font-family="'Liberation Sans', Arial, sans-serif" font-size="56.95" text-anchor="end" font-weight="normal" >Reservoir inf ill time</text><text x="567.5" y="1795.4" font-family="'Liberation Sans', Arial, sans-serif" font-size="56.95" text-anchor="end" font-weight="normal" >Basin deglacierization</text><text x="567.5" y="1922.3000000000002" font-family="'Liberation Sans', Arial, sans-serif" font-size="56.95" text-anchor="end" font-weight="normal" >Production cost</text><text x="566.0" y="2047.6000000000001" font-family="'Liberation Sans', Arial, sans-serif" font-size="56.7" text-anchor="end" font-weight="bold" >Combined suitability</text><text x="0" y="0" font-family="'Liberation Sans', Arial, sans-serif" font-size="74" font-weight="bold" transform="translate(649.5,229.0) scale(0.91,1)">a</text><text x="659.5" y="1219.5" font-family="'Liberation Sans', Arial, sans-serif" font-size="74" text-anchor="start" font-weight="bold" >b</text><text x="605.7" y="132.3" font-family="'Liberation Sans', Arial, sans-serif" font-size="50.0" text-anchor="middle" font-weight="normal" >0</text><text x="776.0" y="132.3" font-family="'Liberation Sans', Arial, sans-serif" font-size="50.0" text-anchor="middle" font-weight="normal" >200</text><text x="946.3000000000001" y="132.3" font-family="'Liberation Sans', Arial, sans-serif" font-size="50.0" text-anchor="middle" font-weight="normal" >400</text><text x="1116.6000000000001" y="132.3" font-family="'Liberation Sans', Arial, sans-serif" font-size="50.0" text-anchor="middle" font-weight="normal" >600</text><text x="1286.9" y="132.3" font-family="'Liberation Sans', Arial, sans-serif" font-size="50.0" text-anchor="middle" font-weight="normal" >800</text><text x="1457.2" y="132.3" font-family="'Liberation Sans', Arial, sans-serif" font-size="50.0" text-anchor="middle" font-weight="normal" >1000</text><text x="1627.5" y="132.3" font-family="'Liberation Sans', Arial, sans-serif" font-size="50.0" text-anchor="middle" font-weight="normal" >1200</text><text x="605.4" y="2139.0" font-family="'Liberation Sans', Arial, sans-serif" font-size="50.0" text-anchor="middle" font-weight="normal" >0</text><text x="871.0" y="2139.0" font-family="'Liberation Sans', Arial, sans-serif" font-size="50.0" text-anchor="middle" font-weight="normal" >200</text><text x="1136.6" y="2139.0" font-family="'Liberation Sans', Arial, sans-serif" font-size="50.0" text-anchor="middle" font-weight="normal" >400</text><text x="1402.2" y="2139.0" font-family="'Liberation Sans', Arial, sans-serif" font-size="50.0" text-anchor="middle" font-weight="normal" >600</text><text x="1667.8000000000002" y="2139.0" font-family="'Liberation Sans', Arial, sans-serif" font-size="50.0" text-anchor="middle" font-weight="normal" >800</text><text x="787.3" y="57.2" font-family="'Liberation Sans', Arial, sans-serif" font-size="56.7" letter-spacing="4.3">Hydropower potential (TWh a<tspan font-size="32" dy="-20">–1</tspan><tspan dy="20">)</tspan></text><text x="725.0" y="2203.9" font-family="'Liberation Sans', Arial, sans-serif" font-size="56.7" letter-spacing="4.3" xml:space="preserve">Potential storage volume  (km<tspan font-size="32" dy="-16">3</tspan><tspan dy="16">)</tspan></text><line x1="1781.6" y1="162.0" x2="1781.6" y2="396.8" stroke="#000" stroke-width="5.6"/><line x1="1771.8" y1="164.8" x2="1784.3999999999999" y2="164.8" stroke="#000" stroke-width="5.6"/><line x1="1771.8" y1="394.0" x2="1784.3999999999999" y2="394.0" stroke="#000" stroke-width="5.6"/><line x1="1781.6" y1="443.8" x2="1781.6" y2="834.5" stroke="#000" stroke-width="5.6"/><line x1="1771.8" y1="446.6" x2="1784.3999999999999" y2="446.6" stroke="#000" stroke-width="5.6"/><line x1="1771.8" y1="831.7" x2="1784.3999999999999" y2="831.7" stroke="#000" stroke-width="5.6"/><line x1="1781.6" y1="872.0" x2="1781.6" y2="962.6" stroke="#000" stroke-width="5.6"/><line x1="1771.8" y1="874.8" x2="1784.3999999999999" y2="874.8" stroke="#000" stroke-width="5.6"/><line x1="1771.8" y1="959.8000000000001" x2="1784.3999999999999" y2="959.8000000000001" stroke="#000" stroke-width="5.6"/><line x1="1784.8" y1="1148.3" x2="1784.8" y2="1383.3" stroke="#000" stroke-width="5.6"/><line x1="1775.0" y1="1151.1" x2="1787.6" y2="1151.1" stroke="#000" stroke-width="5.6"/><line x1="1775.0" y1="1380.5" x2="1787.6" y2="1380.5" stroke="#000" stroke-width="5.6"/><line x1="1784.8" y1="1430.4" x2="1784.8" y2="1820.8" stroke="#000" stroke-width="5.6"/><line x1="1775.0" y1="1433.2" x2="1787.6" y2="1433.2" stroke="#000" stroke-width="5.6"/><line x1="1775.0" y1="1818.0" x2="1787.6" y2="1818.0" stroke="#000" stroke-width="5.6"/><line x1="1784.8" y1="1858.7" x2="1784.8" y2="1948.5" stroke="#000" stroke-width="5.6"/><line x1="1775.0" y1="1861.5" x2="1787.6" y2="1861.5" stroke="#000" stroke-width="5.6"/><line x1="1775.0" y1="1945.7" x2="1787.6" y2="1945.7" stroke="#000" stroke-width="5.6"/><text x="0" y="0" font-family="'Liberation Sans', Arial, sans-serif" font-size="51" transform="translate(1812.6,137.0) rotate(90)">ENVIRONM.</text><text x="0" y="0" font-family="'Liberation Sans', Arial, sans-serif" font-size="51" transform="translate(1812.6,494.0) rotate(90)">TECHNICAL</text><text x="0" y="0" font-family="'Liberation Sans', Arial, sans-serif" font-size="51" transform="translate(1812.6,837.0) rotate(90)">ECON.</text><text x="0" y="0" font-family="'Liberation Sans', Arial, sans-serif" font-size="51" transform="translate(1815.6,1123.0) rotate(90)">ENVIRONM.</text><text x="0" y="0" font-family="'Liberation Sans', Arial, sans-serif" font-size="51" transform="translate(1815.6,1480.5) rotate(90)">TECHNICAL</text><text x="0" y="0" font-family="'Liberation Sans', Arial, sans-serif" font-size="51" transform="translate(1815.6,1823.0) rotate(90)">ECON.</text><rect x="1911.3" y="747.8" width="48.9" height="745.5" fill="url(#cbg)" stroke="#000" stroke-width="4.5"/><line x1="1960" y1="1493.0" x2="1972" y2="1493.0" stroke="#000" stroke-width="4.5"/><text x="1986.0" y="1508.3" font-family="'Liberation Sans', Arial, sans-serif" font-size="50.0" text-anchor="start" font-weight="normal" >0</text><line x1="1960" y1="1343.95" x2="1972" y2="1343.95" stroke="#000" stroke-width="4.5"/><text x="1986.0" y="1359.25" font-family="'Liberation Sans', Arial, sans-serif" font-size="50.0" text-anchor="start" font-weight="normal" >20</text><line x1="1960" y1="1194.9" x2="1972" y2="1194.9" stroke="#000" stroke-width="4.5"/><text x="1986.0" y="1210.2" font-family="'Liberation Sans', Arial, sans-serif" font-size="50.0" text-anchor="start" font-weight="normal" >40</text><line x1="1960" y1="1045.85" x2="1972" y2="1045.85" stroke="#000" stroke-width="4.5"/><text x="1986.0" y="1061.1499999999999" font-family="'Liberation Sans', Arial, sans-serif" font-size="50.0" text-anchor="start" font-weight="normal" >60</text><line x1="1960" y1="896.8" x2="1972" y2="896.8" stroke="#000" stroke-width="4.5"/><text x="1987.5" y="912.0999999999999" font-family="'Liberation Sans', Arial, sans-serif" font-size="50.0" text-anchor="start" font-weight="normal" >80</text><line x1="1960" y1="747.75" x2="1972" y2="747.75" stroke="#000" stroke-width="4.5"/><text x="1983.5" y="763.05" font-family="'Liberation Sans', Arial, sans-serif" font-size="50.0" text-anchor="start" font-weight="normal" >100</text><text x="0" y="0" font-family="'Liberation Sans', Arial, sans-serif" font-size="57.2" transform="translate(2111.8,1373.7) rotate(-90)">Suitability score (–)</text></svg>
</body></html>
